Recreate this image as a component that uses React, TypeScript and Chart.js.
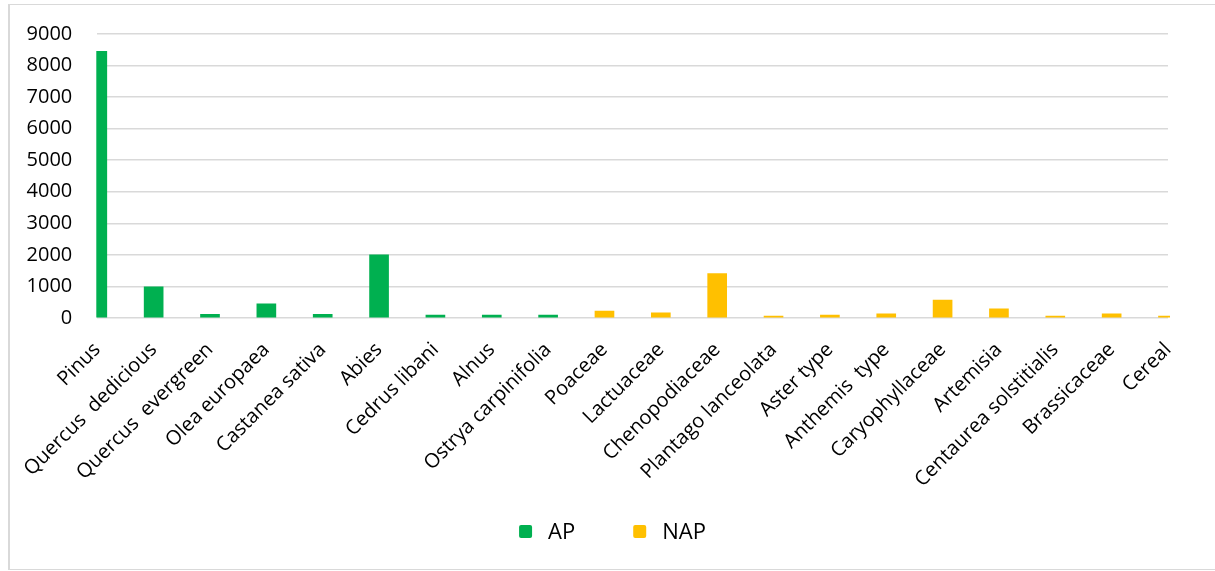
import React, { useEffect, useRef } from "react";
import { Chart, registerables } from "chart.js";

Chart.register(...registerables);

// Pollen taxa shown along the category axis
const categories = [
  "Pinus",
  "Quercus  dedicious",
  "Quercus  evergreen",
  "Olea europaea",
  "Castanea sativa",
  "Abies",
  "Cedrus libani",
  "Alnus",
  "Ostrya carpinifolia",
  "Poaceae",
  "Lactuaceae",
  "Chenopodiaceae",
  "Plantago lanceolata",
  "Aster type",
  "Anthemis  type",
  "Caryophyllaceae",
  "Artemisia",
  "Centaurea solstitialis",
  "Brassicaceae",
  "Cereal",
];

// Arboreal pollen counts
const apValues = [8450, 990, 120, 450, 120, 2000, 90, 90, 90, null, null, null, null, null, null, null, null, null, null, null];

// Non-arboreal pollen counts
const napValues = [null, null, null, null, null, null, null, null, null, 220, 160, 1410, 60, 90, 130, 570, 290, 60, 130, 60];

// Value axis range
const yMin = 0;
const yMax = 9000;
const yStep = 1000;

const FONT = "'Open Sans', 'Noto Sans', sans-serif";
const GRID = "#d9d9d9";

// Horizontal legend centred under the plot, drawn on the canvas
const bottomLegend = {
  id: "bottomLegend",
  afterDraw(chart: any) {
    const { ctx } = chart;
    const box = 13;
    const gap = 16;
    const spacing = 58;
    const items = chart.data.datasets.map((ds: any) => ({
      label: ds.label as string,
      color: ds.backgroundColor as string,
    }));
    ctx.save();
    ctx.font = `22px ${FONT}`;
    const widths = items.map((it: any) => ctx.measureText(it.label).width);
    const total =
      widths.reduce((s: number, w: number) => s + box + gap + w, 0) + spacing * (items.length - 1);
    let x = chart.width / 2 - total / 2;
    const cy = chart.height - 37.5;
    items.forEach((it: any, i: number) => {
      ctx.fillStyle = it.color;
      ctx.beginPath();
      ctx.roundRect(x, cy - box / 2, box, box, 2);
      ctx.fill();
      ctx.fillStyle = "#000";
      ctx.textAlign = "left";
      ctx.textBaseline = "middle";
      ctx.fillText(it.label, x + box + gap, cy + 1);
      x += box + gap + widths[i] + spacing;
    });
    ctx.restore();
  },
};

export default function App() {
  const canvasRef = useRef<HTMLCanvasElement | null>(null);

  useEffect(() => {
    if (!canvasRef.current) return;
    const chart = new Chart(canvasRef.current, {
      type: "bar",
      data: {
        labels: categories,
        datasets: [
          {
            label: "AP",
            data: apValues,
            backgroundColor: "#00B050",
            barThickness: 19,
            grouped: false,
            clip: { left: 1, right: 2, top: 0, bottom: 1 },
          },
          {
            label: "NAP",
            data: napValues,
            backgroundColor: "#FFC000",
            barThickness: 19,
            grouped: false,
            clip: { left: 1, right: 2, top: 0, bottom: 1 },
          },
        ] as any,
      },
      options: {
        responsive: false,
        animation: false,
        layout: { padding: { top: 29, right: 47, bottom: 71, left: 0 } },
        plugins: {
          legend: { display: false },
          tooltip: { enabled: false },
        },
        scales: {
          x: {
            offset: false,
            grid: { display: false },
            border: { display: false },
            ticks: {
              autoSkip: false,
              minRotation: 45,
              maxRotation: 45,
              padding: 12,
              color: "#000",
              font: { family: FONT, size: 20 },
            },
            afterFit: (scale: any) => {
              scale.height = 180;
            },
          },
          y: {
            min: yMin,
            max: yMax,
            grid: {
              color: GRID,
              lineWidth: 1.5,
              drawTicks: true,
              tickLength: 22,
              tickColor: "rgba(0,0,0,0)",
            },
            border: { display: false },
            ticks: {
              stepSize: yStep,
              padding: 3,
              color: "#000",
              font: { family: FONT, size: 20 },
              callback: (v: any) => String(v),
            },
            afterFit: (scale: any) => {
              scale.width = 87.3;
            },
          },
        },
      },
      plugins: [bottomLegend],
    });
    return () => chart.destroy();
  }, []);

  return (
    <div
      style={{
        position: "absolute",
        left: 8,
        top: 4,
        width: 1205,
        height: 564,
        borderTop: `1px solid ${GRID}`,
        borderBottom: `1px solid ${GRID}`,
        borderLeft: `2px solid ${GRID}`,
        background: "#fff",
      }}
    >
      <canvas ref={canvasRef} width={1205} height={564} style={{ display: "block" }} />
    </div>
  );
}
